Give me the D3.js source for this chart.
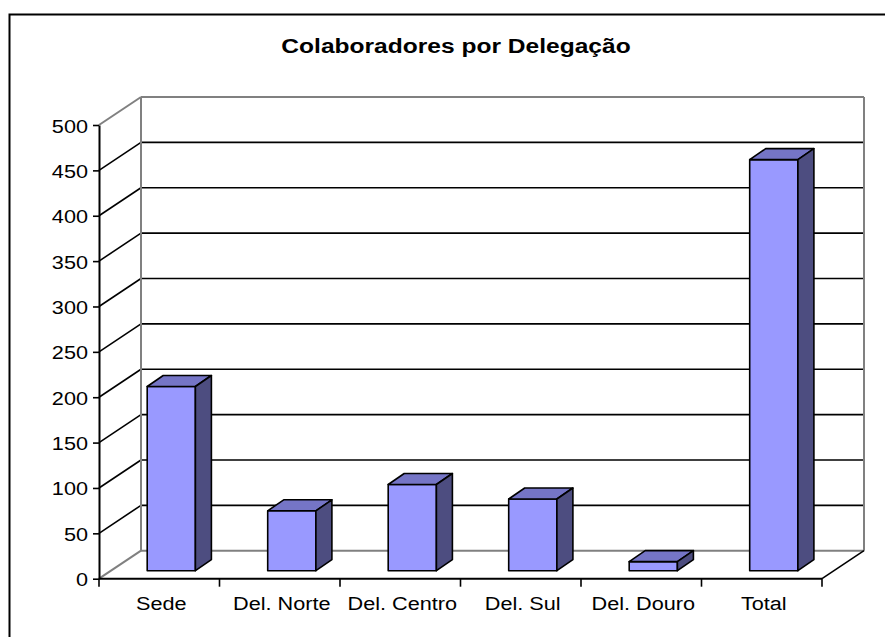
<!DOCTYPE html>
<html>
<head>
<meta charset="utf-8">
<script src="https://cdn.jsdelivr.net/npm/d3@7"></script>
<style>
  body { margin: 0; background: #fff; }
  text { font-family: Arial, "Liberation Sans", sans-serif; }
</style>
</head>
<body>
<div id="chart"></div>
<script>
// data
const categories = ["Sede", "Del. Norte", "Del. Centro", "Del. Sul", "Del. Douro", "Total"];
const colaboradores = [203, 66, 95, 79, 10, 453];
const yTicks = [0, 50, 100, 150, 200, 250, 300, 350, 400, 450, 500];

const W = 885, H = 637;
// front plane and depth of the 3d box
const front = { left: 99, right: 822, bottom: 578.7, top: 125 };
const depth = { dx: 42, dy: -28 };
const barShift = { dx: 12, dy: -8 };   // bars sit inside the floor
const barDepth = { dx: 16, dy: -11 };

const svg = d3.select("#chart").append("svg")
    .attr("width", W)
    .attr("height", H);

// outer frame (runs off the picture at right and bottom)
svg.append("rect")
    .attr("x", 9.5).attr("y", 14.5)
    .attr("width", 1000).attr("height", 1000)
    .attr("fill", "none")
    .attr("stroke", "#000")
    .attr("stroke-width", 2);

// title
svg.append("text")
    .attr("transform", "translate(456,53) scale(1.17,1)")
    .attr("text-anchor", "middle")
    .style("font-size", "21px")
    .style("font-weight", "bold")
    .text("Colaboradores por Delegação");

const x = d3.scaleBand()
    .domain(categories)
    .range([front.left, front.right])
    .padding(0);
const y = d3.scaleLinear()
    .domain([0, 500])
    .range([front.bottom, front.top]);

const bw = x.bandwidth();
const gray = "#808080";

// back wall gridlines
const grid = svg.append("g");
yTicks.forEach(v => {
    const edge = v === 0 || v === 500;
    grid.append("line")
        .attr("x1", front.left + depth.dx).attr("x2", front.right + depth.dx)
        .attr("y1", y(v) + depth.dy).attr("y2", y(v) + depth.dy)
        .attr("stroke", edge ? gray : "#000")
        .attr("stroke-width", edge ? 2 : 1.6);
    // side wall lines
    grid.append("line")
        .attr("x1", front.left).attr("x2", front.left + depth.dx)
        .attr("y1", y(v)).attr("y2", y(v) + depth.dy)
        .attr("stroke", edge ? gray : "#000")
        .attr("stroke-width", edge ? 2 : 1.6);
});
// back wall verticals
[front.left + depth.dx, front.right + depth.dx].forEach(px => {
    grid.append("line")
        .attr("x1", px).attr("x2", px)
        .attr("y1", y(0) + depth.dy).attr("y2", y(500) + depth.dy)
        .attr("stroke", gray)
        .attr("stroke-width", 2);
});
// right floor edge
grid.append("line")
    .attr("x1", front.right).attr("x2", front.right + depth.dx)
    .attr("y1", y(0)).attr("y2", y(0) + depth.dy)
    .attr("stroke", "#000")
    .attr("stroke-width", 1.6);

// bars
const bars = svg.append("g")
    .attr("stroke", "#000")
    .attr("stroke-width", 1.6)
    .attr("stroke-linejoin", "round");
categories.forEach((c, i) => {
    const x0 = x(c) + 0.4 * bw;
    const w = 0.4 * bw;
    const yt = y(colaboradores[i]) + barShift.dy;
    const yb = y(0) + barShift.dy;
    const dx = barDepth.dx, dy = barDepth.dy;
    bars.append("rect")
        .attr("x", x0).attr("y", yt)
        .attr("width", w).attr("height", yb - yt)
        .attr("fill", "#9999ff");
    bars.append("polygon")
        .attr("points", [[x0, yt], [x0 + dx, yt + dy], [x0 + w + dx, yt + dy], [x0 + w, yt]].join(" "))
        .attr("fill", "#7575c6");
    bars.append("polygon")
        .attr("points", [[x0 + w, yt], [x0 + w + dx, yt + dy], [x0 + w + dx, yb + dy], [x0 + w, yb]].join(" "))
        .attr("fill", "#4d4d80");
});

// y axis
const yAxis = svg.append("g")
    .attr("transform", `translate(${front.left},0)`)
    .call(d3.axisLeft(y).tickValues(yTicks).tickSize(6).tickSizeOuter(0));
yAxis.select(".domain").attr("stroke", "#000").attr("stroke-width", 2);
yAxis.selectAll(".tick line").attr("stroke", "#000").attr("stroke-width", 1.6);
yAxis.selectAll(".tick text")
    .attr("x", null).attr("dy", null)
    .attr("transform", "translate(-11,7) scale(1.14,1)")
    .attr("fill", "#000")
    .style("font-size", "19px")
    .style("font-family", "Arial, 'Liberation Sans', sans-serif");

// x axis: line, boundary ticks and labels
const xAxis = svg.append("g");
xAxis.append("line")
    .attr("x1", front.left).attr("x2", front.right)
    .attr("y1", y(0)).attr("y2", y(0))
    .attr("stroke", "#000").attr("stroke-width", 2);
categories.map(c => x(c)).concat([front.right]).forEach(px => {
    xAxis.append("line")
        .attr("x1", px).attr("x2", px)
        .attr("y1", y(0)).attr("y2", y(0) + 8)
        .attr("stroke", "#000").attr("stroke-width", 1.6);
});
categories.forEach(c => {
    xAxis.append("text")
        .attr("transform", `translate(${x(c) + bw / 2 + 2},610) scale(1.14,1)`)
        .attr("text-anchor", "middle")
        .style("font-size", "19px")
        .text(c);
});
</script>
</body>
</html>
